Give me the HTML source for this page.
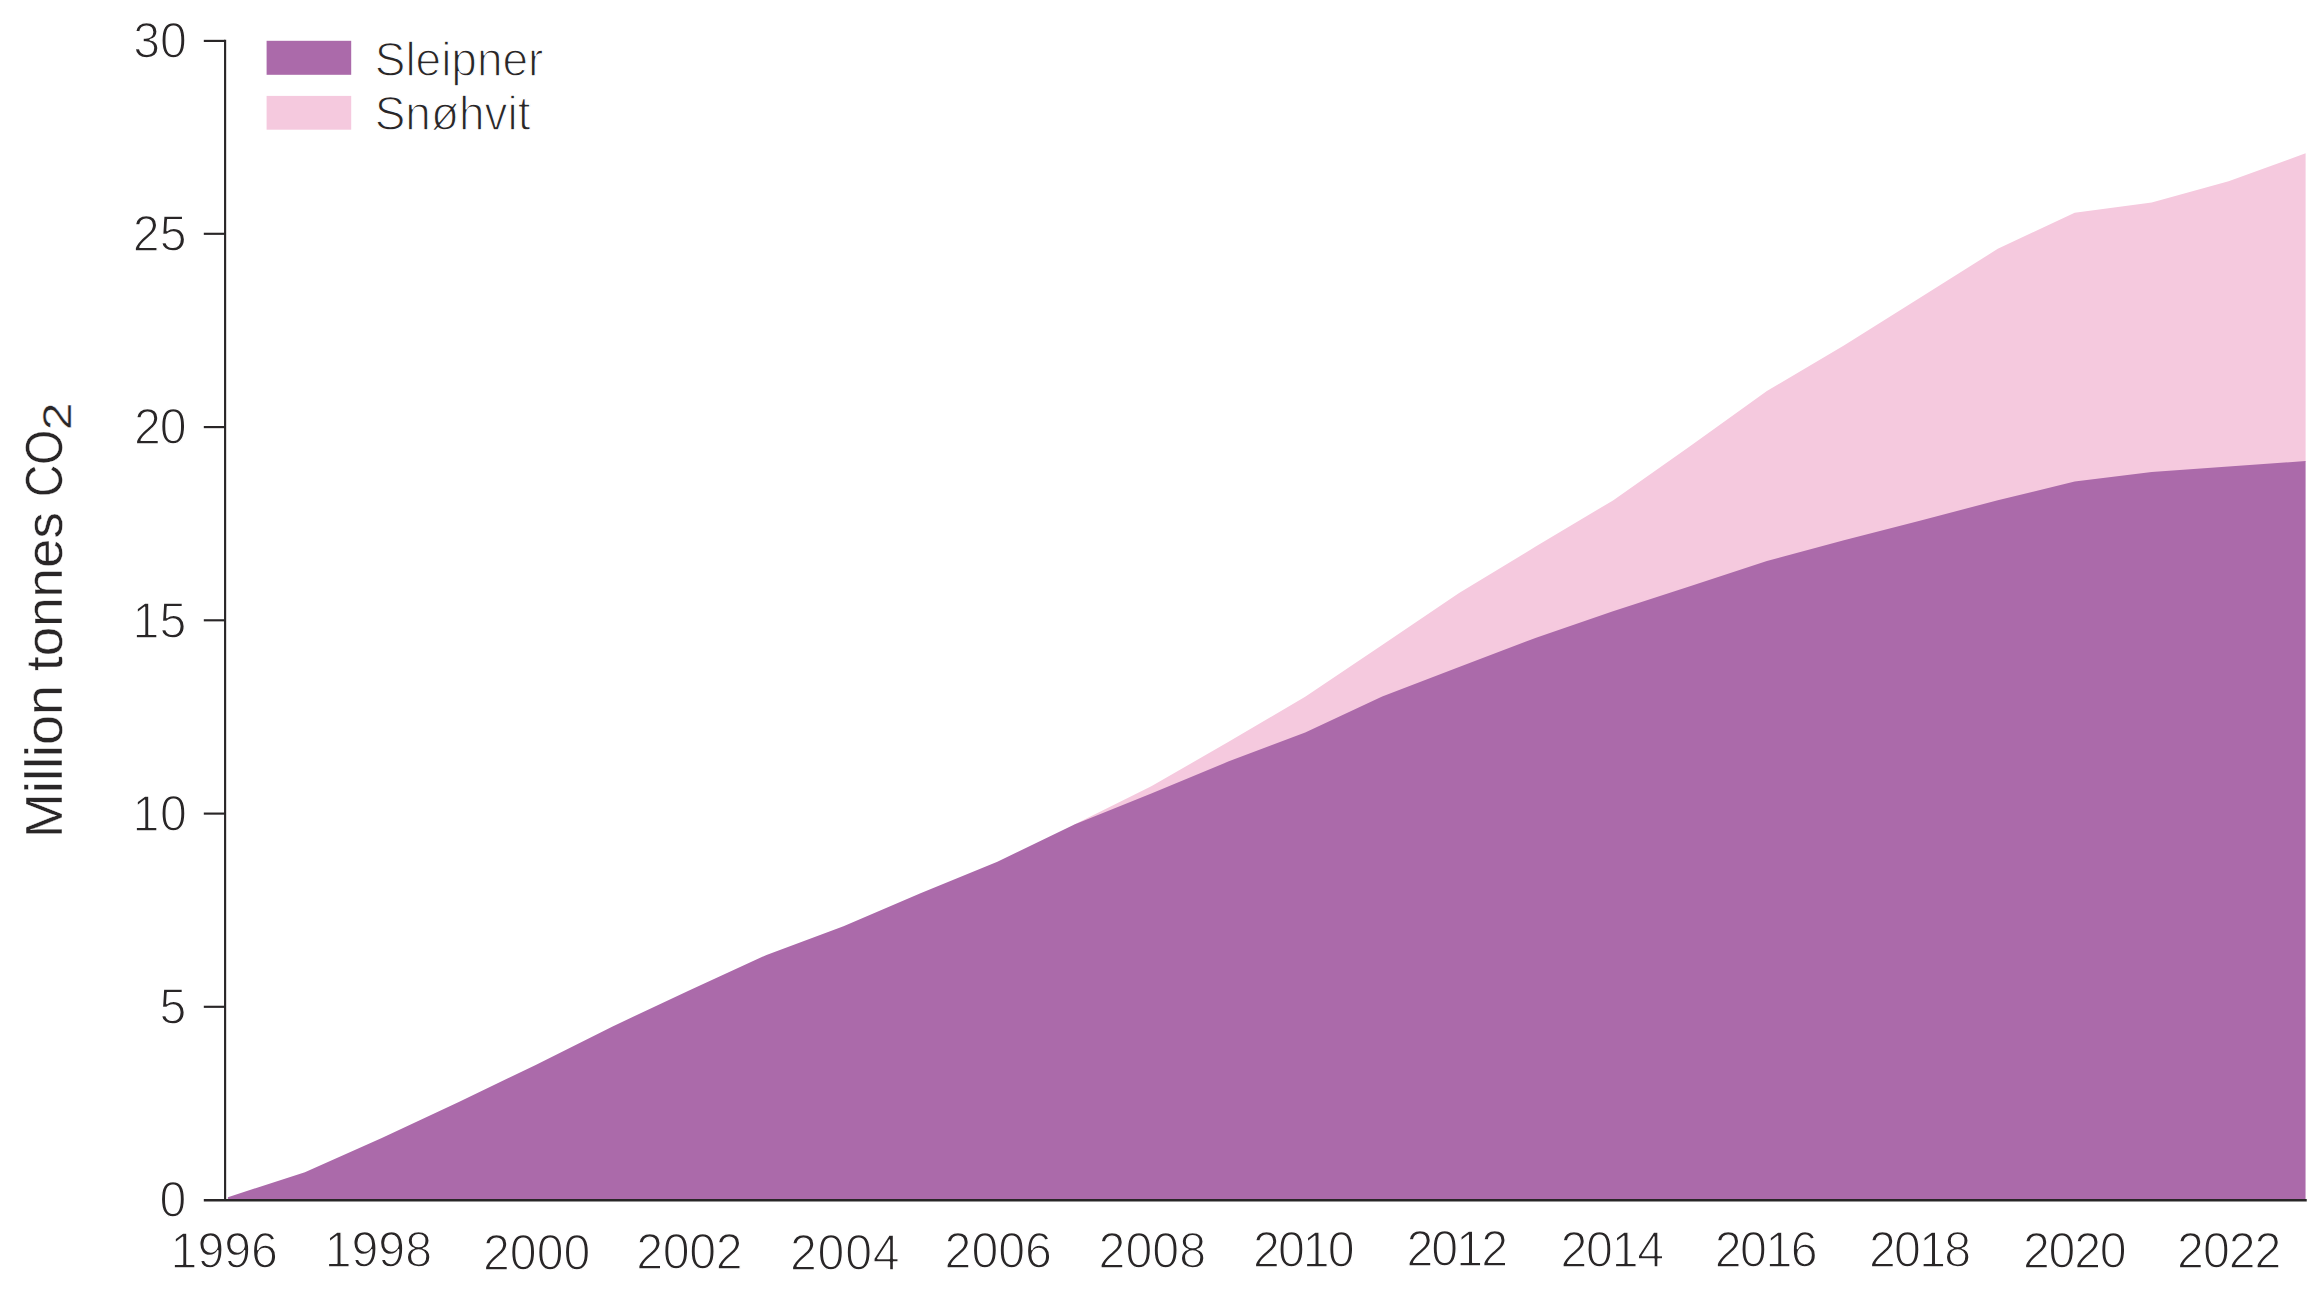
<!DOCTYPE html>
<html lang="en">
<head>
<meta charset="utf-8">
<title>CO2 injected – Sleipner and Snøhvit</title>
<style>
html,body{margin:0;padding:0;background:#fff;}
body{width:2319px;height:1290px;overflow:hidden;}
svg{display:block;}
text{font-family:"Liberation Sans",sans-serif;fill:#292627;}
.lt{font-size:50px;stroke:#fff;stroke-width:1.35px;paint-order:fill stroke;stroke-linejoin:round;}
.yl{font-size:52.5px;stroke:#fff;stroke-width:0.4px;paint-order:fill stroke;}
</style>
</head>
<body>
<svg width="2319" height="1290" viewBox="0 0 2319 1290">
<rect width="2319" height="1290" fill="#ffffff"/>
<path d="M1074.4,824.4 1151.3,786.2 1228.2,742.1 1305.2,696.8 1382.2,645.1 1459.1,593.1 1536.1,546.3 1613.0,500.4 1690.0,446.3 1766.9,391.0 1843.9,345.5 1920.8,297.3 1997.8,248.8 2074.7,212.8 2151.7,202.5 2228.6,181.3 2305.6,153.3 L2305.6,462.0 2228.6,467.6 2151.7,473.0 2074.7,482.5 1997.8,501.3 1920.8,521.4 1843.9,541.3 1766.9,562.1 1690.0,587.3 1613.0,612.2 1536.1,638.8 1459.1,667.9 1382.2,697.4 1305.2,733.5 1228.2,762.6 1151.3,794.5 1074.4,825.4 Z" fill="#f5c9de"/>
<path d="M227.9,1200 L227.9,1197.2 304.9,1172.2 381.8,1137.9 458.8,1101.9 535.7,1064.9 612.6,1026.4 689.6,990.2 766.5,954.9 843.5,926.3 920.5,893.2 997.4,861.8 1074.4,824.4 1151.3,793.5 1228.2,761.6 1305.2,732.5 1382.2,696.4 1459.1,666.9 1536.1,637.8 1613.0,611.2 1690.0,586.3 1766.9,561.1 1843.9,540.3 1920.8,520.4 1997.8,500.3 2074.7,481.5 2151.7,472.0 2228.6,466.6 2305.6,461.0 L2305.55,1200 Z" fill="#ab6aaa"/>

<g stroke="#292627" stroke-width="2.15" fill="none">
<path d="M203.8,1200.25 H2306.75" stroke-width="2.3"/>
<path d="M225.1,39.85 V1201.1"/>
<path d="M203.8,1006.8 H225.1"/>
<path d="M203.8,813.6 H225.1"/>
<path d="M203.8,620.3 H225.1"/>
<path d="M203.8,427.1 H225.1"/>
<path d="M203.8,233.8 H225.1"/>
<path d="M203.8,40.9 H225.1"/>
</g>
<rect x="266.6" y="40.8" width="84.6" height="34" fill="#ab6aaa"/>
<rect x="266.6" y="95.9" width="84.6" height="33.8" fill="#f5c9de"/>
<text id="y30" class="lt" style="letter-spacing:-0.104px" transform="translate(133.15,58.25) scale(0.9650,1)">30</text>
<text id="y25" class="lt" style="letter-spacing:0.311px" transform="translate(132.65,251.25) scale(0.9650,1)">25</text>
<text id="y20" class="lt" style="letter-spacing:-1.036px" transform="translate(133.95,444.45) scale(0.9650,1)">20</text>
<text id="y15" class="lt" style="letter-spacing:0.311px" transform="translate(132.45,637.90) scale(0.9650,1)">15</text>
<text id="y10" class="lt" style="letter-spacing:0.622px" transform="translate(132.45,830.55) scale(0.9650,1)">10</text>
<text id="y5" class="lt" transform="translate(159.60,1024.25) scale(0.9650,1)">5</text>
<text id="y0" class="lt" transform="translate(159.60,1216.75) scale(0.9650,1)">0</text>
<text id="leg1" class="lt" style="font-size:49px" transform="translate(374.73,76.05) scale(0.9382,1)">Sleipner</text>
<text id="leg2" class="lt" style="font-size:49px" transform="translate(374.74,130.45) scale(0.9375,1)">Snøhvit</text>
<text id="x1996" class="lt" transform="translate(170.55,1268.10) scale(0.9650,1)">1996</text>
<text id="x1998" class="lt" transform="translate(324.70,1266.75) scale(0.9650,1)">1998</text>
<text id="x2000" class="lt" style="letter-spacing:-0.017px" transform="translate(483.00,1269.75) scale(0.9650,1)">2000</text>
<text id="x2002" class="lt" style="letter-spacing:-0.380px" transform="translate(636.30,1268.75) scale(0.9650,1)">2002</text>
<text id="x2004" class="lt" style="letter-spacing:0.794px" transform="translate(789.95,1269.75) scale(0.9650,1)">2004</text>
<text id="x2006" class="lt" style="letter-spacing:-0.017px" transform="translate(944.60,1268.45) scale(0.9650,1)">2006</text>
<text id="x2008" class="lt" style="letter-spacing:0.035px" transform="translate(1098.60,1268.45) scale(0.9650,1)">2008</text>
<text id="x2010" class="lt" style="letter-spacing:-1.969px" transform="translate(1252.95,1266.75) scale(0.9650,1)">2010</text>
<text id="x2012" class="lt" style="letter-spacing:-2.003px" transform="translate(1406.45,1265.75) scale(0.9650,1)">2012</text>
<text id="x2014" class="lt" style="letter-spacing:-1.278px" transform="translate(1560.45,1266.75) scale(0.9650,1)">2014</text>
<text id="x2016" class="lt" style="letter-spacing:-1.589px" transform="translate(1714.80,1266.75) scale(0.9650,1)">2016</text>
<text id="x2018" class="lt" style="letter-spacing:-1.831px" transform="translate(1869.00,1266.75) scale(0.9650,1)">2018</text>
<text id="x2020" class="lt" style="letter-spacing:-1.278px" transform="translate(2022.95,1268.10) scale(0.9650,1)">2020</text>
<text id="x2022" class="lt" style="letter-spacing:-1.036px" transform="translate(2177.10,1268.10) scale(0.9650,1)">2022</text>
<text class="yl" transform="translate(62.45,838.13) rotate(-90) scale(1.0293,1)">Million</text>
<text class="yl" transform="translate(62.45,670.99) rotate(-90) scale(1.0082,1)">tonnes</text>
<text class="yl" transform="translate(62.45,497.08) rotate(-90) scale(0.8525,1)">CO</text>
<text class="yl" style="font-size:39.8px" transform="translate(70.90,430.29) rotate(-90) scale(1.2508,1)">2</text>
</svg>
</body>
</html>
